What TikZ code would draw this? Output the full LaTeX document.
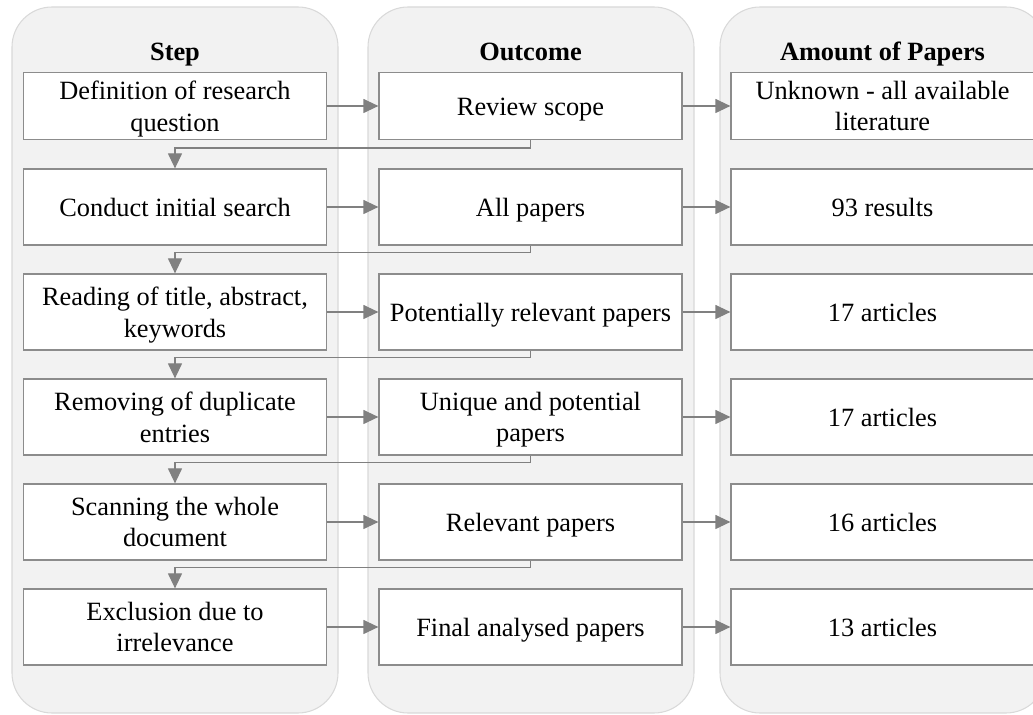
\documentclass[tikz,border=0pt]{standalone}
\usepackage{fontspec}
\setmainfont{Liberation Serif}
\usetikzlibrary{positioning,arrows.meta}
\definecolor{colfill}{HTML}{F2F2F2}
\definecolor{colline}{HTML}{D9D9D9}
\definecolor{boxline}{HTML}{8C8C8C}
\definecolor{linkgray}{HTML}{808080}

\begin{document}
\begin{tikzpicture}
          %% REVIEW PROCESS

          \tikzstyle{column}=[draw=colline,fill=colfill,rounded corners=0.8cm,line width=0.6pt]
          \tikzstyle{box}=[draw=boxline,fill=white,minimum width=6.06cm,minimum height=1.52cm,inner sep=0pt,align=center,text depth=0cm,font=\fontsize{15}{18}\selectfont,line width=0.7pt]
          \tikzstyle{single}=[text height=0.40cm]
          \tikzstyle{head}=[anchor=base,font=\fontsize{15}{18}\selectfont\bfseries]
          \tikzstyle{link}=[draw=linkgray,line width=0.7pt,-{Triangle[length=0.3cm,width=0.28cm]}]

          \clip (0,0) rectangle (20.66,-14.3);

          % colonnes
          \draw[column] (0.24,-0.14) rectangle (6.76,-14.26);
          \draw[column] (7.36,-0.14) rectangle (13.88,-14.26);
          \draw[column] (14.40,-0.14) rectangle (20.92,-14.26);

          \node[head] (H1) at (3.5,-1.21) {Step};
          \node[head] (H2) at (10.61,-1.21) {Outcome};
          \node[head] (H3) at (17.65,-1.21) {Amount of Papers};

          % etapes
          \node[box,minimum height=1.34cm] (S1) at (3.5,-2.12) {Definition of research\\question};
          \node[box,single] (S2) at (3.5,-4.14) {Conduct initial search};
          \node[box] (S3) at (3.5,-6.24) {Reading of title, abstract,\\keywords};
          \node[box] (S4) at (3.5,-8.34) {Removing of duplicate\\entries};
          \node[box] (S5) at (3.5,-10.44) {Scanning the whole\\document};
          \node[box] (S6) at (3.5,-12.54) {Exclusion due to\\irrelevance};

          % resultats
          \node[box,single,minimum height=1.34cm] (O1) at (10.61,-2.12) {Review scope};
          \node[box,single] (O2) at (10.61,-4.14) {All papers};
          \node[box,single] (O3) at (10.61,-6.24) {Potentially relevant papers};
          \node[box] (O4) at (10.61,-8.34) {Unique and potential\\papers};
          \node[box,single] (O5) at (10.61,-10.44) {Relevant papers};
          \node[box,single] (O6) at (10.61,-12.54) {Final analysed papers};

          % nombre d'articles
          \node[box,minimum height=1.34cm] (A1) at (17.65,-2.12) {Unknown - all available\\literature};
          \node[box,single] (A2) at (17.65,-4.14) {93 results};
          \node[box,single] (A3) at (17.65,-6.24) {17 articles};
          \node[box,single] (A4) at (17.65,-8.34) {17 articles};
          \node[box,single] (A5) at (17.65,-10.44) {16 articles};
          \node[box,single] (A6) at (17.65,-12.54) {13 articles};

          % fleches horizontales
          \draw[link] (S1) -- (O1);
          \draw[link] (O1) -- (A1);
          \draw[link] (S2) -- (O2);
          \draw[link] (O2) -- (A2);
          \draw[link] (S3) -- (O3);
          \draw[link] (O3) -- (A3);
          \draw[link] (S4) -- (O4);
          \draw[link] (O4) -- (A4);
          \draw[link] (S5) -- (O5);
          \draw[link] (O5) -- (A5);
          \draw[link] (S6) -- (O6);
          \draw[link] (O6) -- (A6);

          % retours vers l'etape suivante
          \draw[link] (O1.south) -- ++(0,-0.16) -| (S2.north);
          \draw[link] (O2.south) -- ++(0,-0.14) -| (S3.north);
          \draw[link] (O3.south) -- ++(0,-0.14) -| (S4.north);
          \draw[link] (O4.south) -- ++(0,-0.14) -| (S5.north);
          \draw[link] (O5.south) -- ++(0,-0.14) -| (S6.north);

\end{tikzpicture}
\end{document}
